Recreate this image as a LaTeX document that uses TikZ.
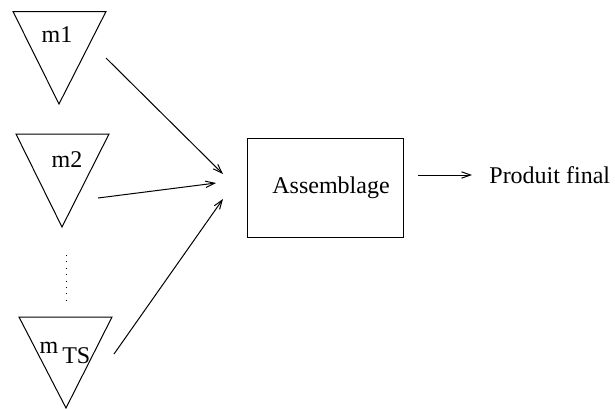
\documentclass[tikz,border=0pt]{standalone}
\usepackage{fontspec}
\setmainfont{Liberation Serif}
\usetikzlibrary{arrows.meta}
\tikzset{
  part/.style={draw, line width=0.5pt},
  arr/.style={line width=0.5pt, -{Straight Barb[length=4.5pt,width=3.2pt]}},
  box/.style={draw, line width=0.5pt, minimum width=78pt, minimum height=49.5pt,
              inner sep=0pt, font=\fontsize{12}{14}\selectfont},
  lbl/.style={anchor=base, inner sep=0pt, font=\fontsize{12}{14}\selectfont},
}

\begin{document}
\begin{tikzpicture}[x=0.5pt, y=-0.5pt]
    \useasboundingbox (0,0) rectangle (615,408);
    % modules
    \draw[part] (13,11.5) -- (106,11.5) -- (59,104) -- cycle;
    \draw[part] (16,134) -- (109,134) -- (62,227) -- cycle;
    \draw[part] (19,317) -- (112,317) -- (66,408) -- cycle;
    \node[lbl] (m1) at (57,42) {m1};
    \node[lbl] (m2) at (67,167) {m2};
    \node[lbl] (mts) at (65,353) {m\,\raisebox{-0.45em}{TS}};
    \coordinate (d1) at (66,255);
    \coordinate (d2) at (66,306);
    \draw[line width=0.5pt, dash pattern=on 0.5pt off 2.7pt] (d1) -- (d2);
    % assemblage
    \node[box] (asm) at (325,187.5) {\hspace{6pt}Assemblage};
    \node[lbl, anchor=base west] (final) at (489,183) {Produit final};
    \coordinate (s1) at (106,58);
    \coordinate (e1) at (223,174);
    \coordinate (s2) at (98,198);
    \coordinate (e2) at (216,183);
    \coordinate (s3) at (114,354);
    \coordinate (e3) at (223,199);
    \coordinate (o1) at (418,175);
    \draw[arr] (s1) -- (e1);
    \draw[arr] (s2) -- (e2);
    \draw[arr] (s3) -- (e3);
    \draw[arr, shorten >=8.5pt] (o1) -- (o1 -| final.west);
\end{tikzpicture}
\end{document}
